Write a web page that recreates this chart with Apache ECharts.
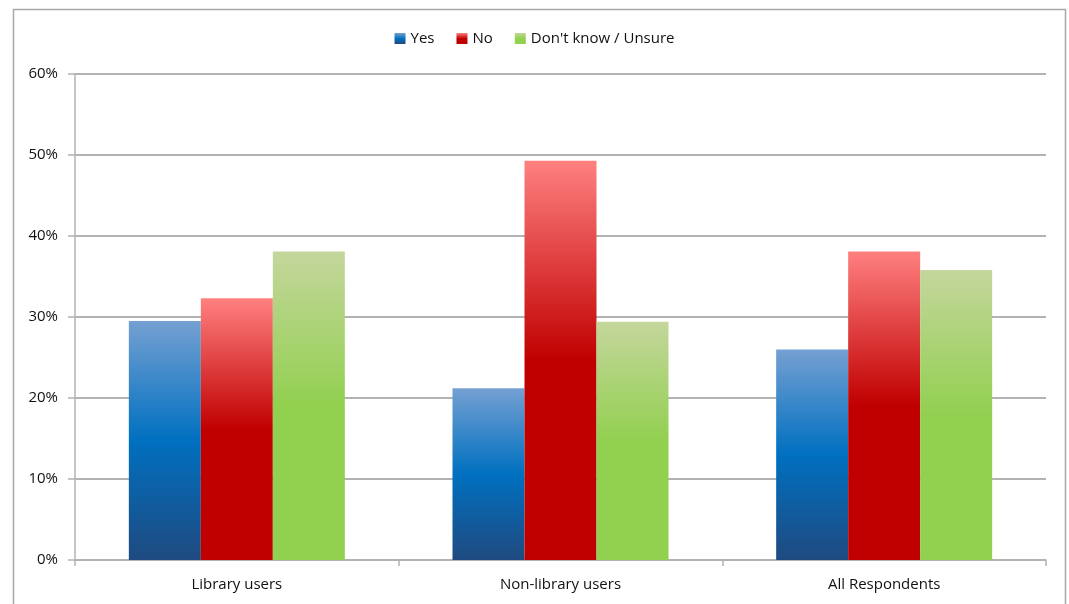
<!DOCTYPE html>
<html>
<head>
<meta charset="utf-8">
<script src="https://cdn.jsdelivr.net/npm/echarts@6/dist/echarts.min.js"></script>
<style>
  html, body { margin: 0; padding: 0; background: #fff; }
  #chart { width: 1069px; height: 604px; }
</style>
</head>
<body>
<div id="chart"></div>
<script>
// Survey answers by group (percent of respondents)
const categories = ['Library users', 'Non-library users', 'All Respondents'];
const seriesNames = ['Yes', 'No', "Don't know / Unsure"];
const yesValues = [29.5, 21.2, 26.0];
const noValues = [32.3, 49.3, 38.1];
const unsureValues = [38.1, 29.4, 35.8];
const yTicks = [0, 10, 20, 30, 40, 50, 60];

// Vertical shading per bar: light top, saturated middle, deeper base
function shade(top, mid, bottom) {
  return new echarts.graphic.LinearGradient(0, 0, 0, 1, [
    { offset: 0, color: top },
    { offset: 0.5, color: mid },
    { offset: 1, color: bottom }
  ]);
}

const fills = [
  shade('#75a0d2', '#0070c0', '#1f4a80'),
  shade('#ff8080', '#c00000', '#c00000'),
  shade('#c4d69c', '#92d050', '#92d050')
];

const font = 'Open Sans, Noto Sans, sans-serif';
const gridColor = '#b3b3b3';

const chart = echarts.init(document.getElementById('chart'), null, { renderer: 'canvas' });

chart.setOption({
  animation: false,
  backgroundColor: '#fff',
  graphic: [{
    type: 'rect',
    shape: { x: 13.5, y: 9.5, width: 1052, height: 610 },
    style: { fill: 'none', stroke: '#a8a8a8', lineWidth: 1.5 },
    silent: true
  }],
  legend: {
    top: 26,
    left: 'center',
    icon: 'rect',
    itemWidth: 11,
    itemHeight: 11,
    itemGap: 22,
    textStyle: { fontFamily: font, fontSize: 15, color: '#111' },
    data: seriesNames
  },
  grid: { left: 75, right: 23, top: 74, bottom: 44, containLabel: false },
  xAxis: {
    type: 'category',
    data: categories,
    axisLine: { lineStyle: { color: gridColor, width: 1.5 } },
    axisTick: { show: true, alignWithLabel: false, length: 6, lineStyle: { color: gridColor, width: 1.5 } },
    axisLabel: { fontFamily: font, fontSize: 15, color: '#111', margin: 17 }
  },
  yAxis: {
    type: 'value',
    min: yTicks[0],
    max: yTicks[yTicks.length - 1],
    interval: 10,
    axisLine: { show: true, lineStyle: { color: gridColor, width: 1.5 } },
    axisTick: { show: true, inside: false, length: 7, lineStyle: { color: gridColor, width: 1.5 } },
    splitLine: { lineStyle: { color: gridColor, width: 1.8 } },
    axisLabel: { fontFamily: font, fontSize: 15, color: '#111', margin: 17, formatter: v => v + '%' }
  },
  series: [
    { name: seriesNames[0], type: 'bar', data: yesValues, barWidth: 72, barGap: '0%', itemStyle: { color: fills[0] } },
    { name: seriesNames[1], type: 'bar', data: noValues, barWidth: 72, barGap: '0%', itemStyle: { color: fills[1] } },
    { name: seriesNames[2], type: 'bar', data: unsureValues, barWidth: 72, barGap: '0%', itemStyle: { color: fills[2] } }
  ]
});
</script>
</body>
</html>
